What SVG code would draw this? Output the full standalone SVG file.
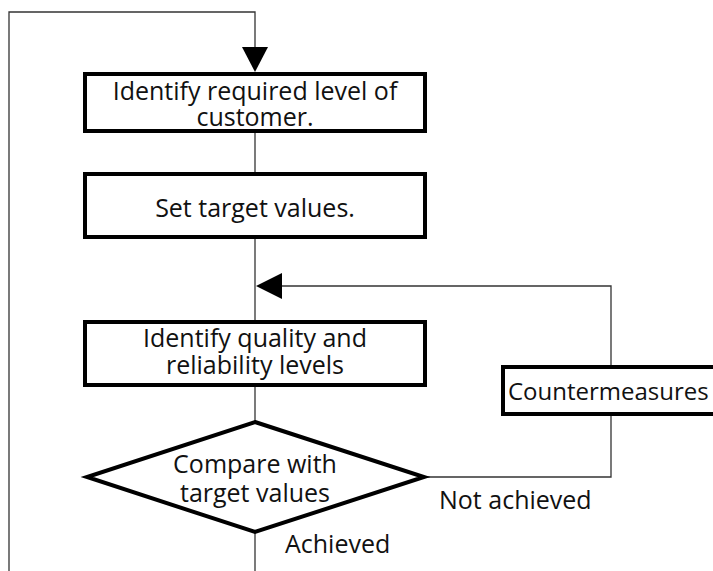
<svg xmlns="http://www.w3.org/2000/svg" width="713" height="571" viewBox="0 0 713 571">
  <style>
    .box { fill: #ffffff; stroke: #000000; stroke-width: 4; }
    .wire { fill: none; stroke: #333333; stroke-width: 1.3; }
    .head { fill: #000000; stroke: none; }
    text { font-family: "Open Sans", "Noto Sans", "DejaVu Sans", sans-serif; font-size: 25px; fill: #111111; }
    .c { text-anchor: middle; }
    .tight { font-size: 24px; }
  </style>
  <rect width="713" height="571" fill="#ffffff"/>

  <!-- connectors -->
  <g id="connectors">
    <!-- outer return loop on the left -->
    <polyline class="wire" points="9,571 9,12 255,12 255,50"/>
    <polygon class="head" points="242,47 268,47 255,72"/>
    <!-- main flow line -->
    <line class="wire" x1="255" y1="133" x2="255" y2="172"/>
    <line class="wire" x1="255" y1="239" x2="255" y2="320"/>
    <line class="wire" x1="255" y1="387" x2="255" y2="422"/>
    <line class="wire" x1="255" y1="532" x2="255" y2="571"/>
    <!-- not achieved loop through countermeasures -->
    <polyline class="wire" points="425,477 611,477 611,415"/>
    <polyline class="wire" points="611,366 611,286 280,286"/>
    <polygon class="head" points="256,286 282,273 282,299"/>
  </g>

  <g id="identify-required">
    <rect class="box" x="85" y="74" width="340" height="57"/>
    <text class="c" x="255" y="100">Identify required level of</text>
    <text class="c" x="255" y="126">customer.</text>
  </g>

  <g id="set-target">
    <rect class="box" x="85" y="174" width="340" height="63"/>
    <text class="c" x="255" y="217">Set target values.</text>
  </g>

  <g id="identify-quality">
    <rect class="box" x="85" y="322" width="340" height="63"/>
    <text class="c" x="255" y="347">Identify quality and</text>
    <text class="c" x="255" y="374">reliability levels</text>
  </g>

  <g id="compare">
    <polygon class="box" points="255,422 424,477 255,532 87,477"/>
    <text class="c" x="255" y="473">Compare with</text>
    <text class="c" x="255" y="502">target values</text>
  </g>

  <g id="countermeasures">
    <rect class="box" x="503" y="367" width="220" height="47"/>
    <text class="tight" x="508" y="400">Countermeasures</text>
  </g>

  <g id="labels">
    <text x="439" y="509">Not achieved</text>
    <text x="285" y="553">Achieved</text>
  </g>
</svg>
